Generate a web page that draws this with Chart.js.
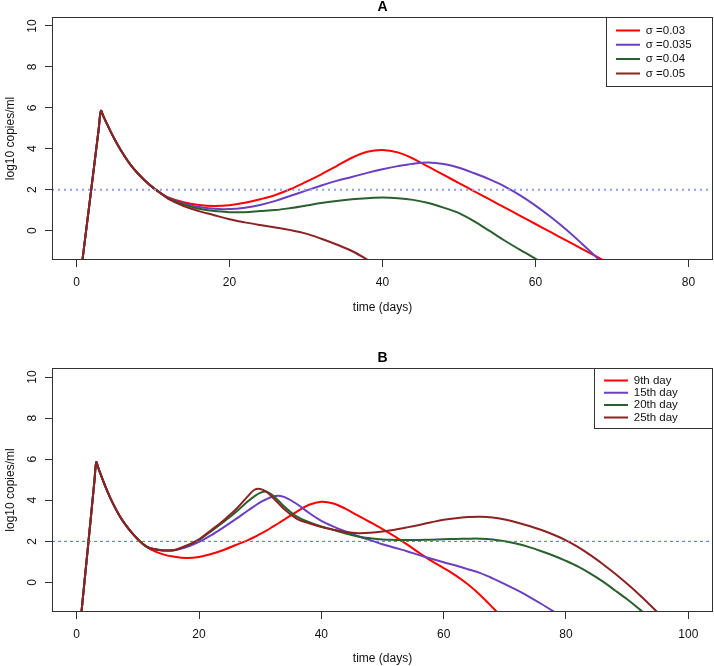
<!DOCTYPE html>
<html>
<head>
<meta charset="utf-8">
<script src="https://cdn.jsdelivr.net/npm/chart.js@4.4.1/dist/chart.umd.min.js"></script>
<style>
  body { margin: 0; background: #fff; }
  canvas { display: block; }
</style>
</head>
<body>
<canvas id="panelA" width="714" height="333"></canvas>
<canvas id="panelB" width="714" height="333"></canvas>
<script>
// shared rise / first decline (days, log10 copies/ml)
const timeEarly = [0, 1, 2, 2.9, 3.2, 3.5, 4, 5, 6, 7, 8, 9, 10, 11];
const early = [-3.8, -0.78, 2.22, 4.95, 5.85, 5.6, 5.2, 4.45, 3.8, 3.25, 2.8, 2.42, 2.1, 1.83];

// panel A: different sigma
const timeLateA = [12, 14, 16, 18, 20, 22, 24, 26, 28, 30, 32, 34, 36, 38, 40, 42, 44, 46, 48, 50,
                   52, 54, 56, 58, 60, 62, 64, 66, 68, 70];
const redLateA = [1.62, 1.38, 1.25, 1.2, 1.24, 1.36, 1.53, 1.74, 2.03, 2.38, 2.75, 3.15, 3.56, 3.85, 3.94,
                  3.82, 3.52, 3.12, 2.72, 2.32, 1.92, 1.52, 1.12, 0.72, 0.32, -0.08, -0.48, -0.88, -1.28, -1.68];
const purpleLateA = [1.6, 1.33, 1.15, 1.06, 1.05, 1.12, 1.25, 1.45, 1.7, 1.95, 2.2, 2.43, 2.62, 2.82, 3.0,
                     3.15, 3.27, 3.33, 3.25, 3.07, 2.8, 2.5, 2.15, 1.72, 1.22, 0.66, 0.05, -0.62, -1.32, -2.05];
const greenLateA = [1.58, 1.28, 1.07, 0.95, 0.9, 0.9, 0.95, 1.0, 1.1, 1.22, 1.35, 1.45, 1.53, 1.58, 1.61,
                    1.58, 1.5, 1.35, 1.12, 0.85, 0.45, -0.02, -0.5, -0.95, -1.38, -1.8];
const brownLateA = [1.55, 1.2, 0.95, 0.75, 0.55, 0.4, 0.27, 0.15, 0.02, -0.15, -0.4, -0.68, -1.0, -1.42, -1.9];

// panel B: different start day
const timeLateB = [12, 14, 16, 18, 20, 22, 24, 26, 28, 29, 30, 31, 32, 33, 34, 36, 38, 40, 42, 44, 46, 48,
                   50, 52, 54, 56, 58, 60, 62, 64, 66, 68, 70, 72, 74, 76, 78, 80, 82, 84, 86, 88, 90, 92, 94, 96];
const redLateB = [1.62, 1.38, 1.25, 1.19, 1.24, 1.38, 1.58, 1.82, 2.06, 2.2, 2.36, 2.52, 2.7, 2.88, 3.07,
                  3.45, 3.78, 3.93, 3.84, 3.58, 3.25, 2.93, 2.6, 2.24, 1.85, 1.44, 1.05, 0.7, 0.33, -0.1, -0.62, -1.22, -1.85];
const purpleLateB = [1.66, 1.57, 1.57, 1.72, 1.97, 2.3, 2.68, 3.08, 3.5, 3.7, 3.9, 4.05, 4.17, 4.22, 4.15,
                     3.82, 3.38, 3.0, 2.72, 2.48, 2.25, 2.06, 1.86, 1.69, 1.52, 1.33, 1.15, 0.98, 0.82, 0.64,
                     0.45, 0.2, -0.08, -0.38, -0.7, -1.05, -1.42, -1.8];
const greenLateB = [1.66, 1.56, 1.58, 1.78, 2.07, 2.5, 2.95, 3.42, 3.95, 4.18, 4.36, 4.42, 4.25, 3.98, 3.68,
                    3.2, 2.93, 2.72, 2.55, 2.38, 2.24, 2.15, 2.09, 2.07, 2.06, 2.07, 2.08, 2.1, 2.12, 2.13,
                    2.13, 2.09, 2.0, 1.88, 1.72, 1.52, 1.3, 1.05, 0.77, 0.43, 0.05, -0.38, -0.82, -1.3, -1.8];
const brownLateB = [1.66, 1.56, 1.58, 1.8, 2.1, 2.55, 3.02, 3.55, 4.2, 4.5, 4.55, 4.42, 4.15, 3.85, 3.55,
                    3.1, 2.88, 2.7, 2.57, 2.46, 2.4, 2.42, 2.48, 2.57, 2.68, 2.8, 2.93, 3.05, 3.13, 3.18,
                    3.2, 3.16, 3.06, 2.92, 2.75, 2.55, 2.32, 2.05, 1.72, 1.33, 0.9, 0.43, -0.07, -0.6, -1.17, -1.77];

const sigmaLabels = ['σ =0.03', 'σ =0.035', 'σ =0.04', 'σ =0.05'];
const dayLabels = ['9th day', '15th day', '20th day', '25th day'];
const threshold = 2;
const xTicksA = [0, 20, 40, 60, 80];
const xTicksB = [0, 20, 40, 60, 80, 100];
const yTicks = [0, 2, 4, 6, 8, 10];

const colors = ['#ff0000', '#6b3fc0', '#2a5f2e', '#8b2323'];

Chart.defaults.font.family = '"Liberation Sans", Arial, Helvetica, sans-serif';
Chart.defaults.font.size = 12;
Chart.defaults.color = '#111';

function pts(time, vals) {
    return vals.map((v, i) => ({ x: time[i], y: v }));
}

// plot box + legend border
const frame = {
    id: 'frame',
    afterLayout(chart, args, o) {
        const lg = chart.legend;
        const pad = o.legendPad;
        lg.left = o.lineX - pad;
        lg.right = lg.left + lg.width;
        lg.top = o.rowY - o.fontSize / 2 - pad;
        lg.bottom = chart.chartArea.bottom;
        lg.height = lg.bottom - lg.top;
    },
    afterDraw(chart, args, o) {
        const a = chart.chartArea, ctx = chart.ctx;
        const l = Math.round(a.left), t = Math.round(a.top), r = Math.round(a.right), b = Math.round(a.bottom);
        ctx.save();
        ctx.strokeStyle = '#333';
        ctx.lineWidth = 1;
        ctx.strokeRect(l + 0.5, t + 0.5, r - l - 1, b - t - 1);
        ctx.strokeRect(o.boxLeft + 0.5, t + 0.5, r - o.boxLeft - 1, o.boxBottom - t);
        ctx.restore();
    }
};

function makePanel(id, cfg) {
    const datasets = [{
        label: 'threshold',
        data: [{ x: cfg.xRange[0], y: threshold }, { x: cfg.xRange[1], y: threshold }],
        borderColor: cfg.threshColor,
        borderWidth: cfg.threshWidth,
        borderDash: cfg.threshDash,
        pointRadius: 0,
        clip: 0
    }];
    // reversed so the last series ends on top, legend reversed back
    for (let i = cfg.series.length - 1; i >= 0; i--) {
        datasets.push({
            label: cfg.labels[i],
            data: pts(timeEarly.concat(cfg.time), early.concat(cfg.series[i])),
            borderColor: colors[i],
            backgroundColor: colors[i],
            borderWidth: 2,
            pointRadius: 0,
            tension: 0.35,
            clip: 0
        });
    }
    const tickGrid = { drawOnChartArea: false, drawTicks: true, tickLength: 7, color: '#333', lineWidth: 1 };
    return new Chart(document.getElementById(id), {
        type: 'line',
        data: { datasets },
        plugins: [frame],
        options: {
            responsive: false,
            animation: false,
            devicePixelRatio: 1,
            layout: { padding: cfg.padding },
            plugins: {
                title: { display: false },
                tooltip: { enabled: false },
                legend: {
                    position: 'chartArea',
                    align: 'start',
                    reverse: true,
                    labels: {
                        usePointStyle: true,
                        pointStyle: 'line',
                        pointStyleWidth: 24,
                        padding: cfg.legendPad,
                        color: '#111',
                        font: { size: 11.5 },
                        filter: item => item.text !== 'threshold'
                    }
                },
                frame: {
                    legendPad: cfg.legendPad, lineX: cfg.lineX, rowY: cfg.rowY, fontSize: 11.5,
                    boxLeft: cfg.boxLeft, boxBottom: cfg.boxBottom
                }
            },
            scales: {
                x: {
                    type: 'linear',
                    min: cfg.xRange[0],
                    max: cfg.xRange[1],
                    afterBuildTicks: s => { s.ticks = cfg.xTicks.map(v => ({ value: v })); },
                    afterFit: s => { s.height = cfg.xHeight; },
                    grid: tickGrid,
                    border: { display: false },
                    ticks: { maxRotation: 0, padding: 8, color: '#111' },
                    title: { display: true, text: 'time (days)', padding: { top: 0, bottom: 0 }, color: '#111' }
                },
                top: {
                    type: 'linear',
                    position: 'top',
                    display: true,
                    afterFit: s => { s.height = 17; },
                    grid: { display: false },
                    border: { display: false },
                    ticks: { display: false },
                    title: {
                        display: true, text: cfg.title, color: '#000',
                        font: { size: 14, weight: 'bold', lineHeight: 1 },
                        padding: { top: 0, bottom: 0 }
                    }
                },
                y: {
                    type: 'linear',
                    min: -1.44,
                    max: 10.44,
                    afterBuildTicks: s => { s.ticks = yTicks.map(v => ({ value: v })); },
                    afterFit: s => { s.width = 52; },
                    grid: tickGrid,
                    border: { display: false },
                    ticks: { minRotation: 90, maxRotation: 90, crossAlign: 'center', padding: 6, color: '#111' },
                    title: { display: true, text: 'log10 copies/ml', padding: { top: 3, bottom: 0 }, color: '#111' }
                }
            }
        }
    });
}

makePanel('panelA', {
    title: 'A',
    time: timeLateA,
    series: [redLateA, purpleLateA, greenLateA, brownLateA],
    labels: sigmaLabels,
    xRange: [-3.2, 83.2],
    xTicks: xTicksA,
    xHeight: 55,
    padding: { top: 0, right: 1, bottom: 18, left: 0 },
    threshColor: '#8fa0e6', threshWidth: 2, threshDash: [2, 4],
    legendPad: 2.8, lineX: 616, rowY: 30.5, boxLeft: 606, boxBottom: 86
});

makePanel('panelB', {
    title: 'B',
    time: timeLateB,
    series: [redLateB, purpleLateB, greenLateB, brownLateB],
    labels: dayLabels,
    xRange: [-4.04, 104.04],
    xTicks: xTicksB,
    xHeight: 54,
    padding: { top: 18, right: 1, bottom: 0, left: 0 },
    threshColor: '#4f6fd6', threshWidth: 1, threshDash: [3, 3],
    legendPad: 0.8, lineX: 604, rowY: 47.5, boxLeft: 594, boxBottom: 95
});
</script>
</body>
</html>
